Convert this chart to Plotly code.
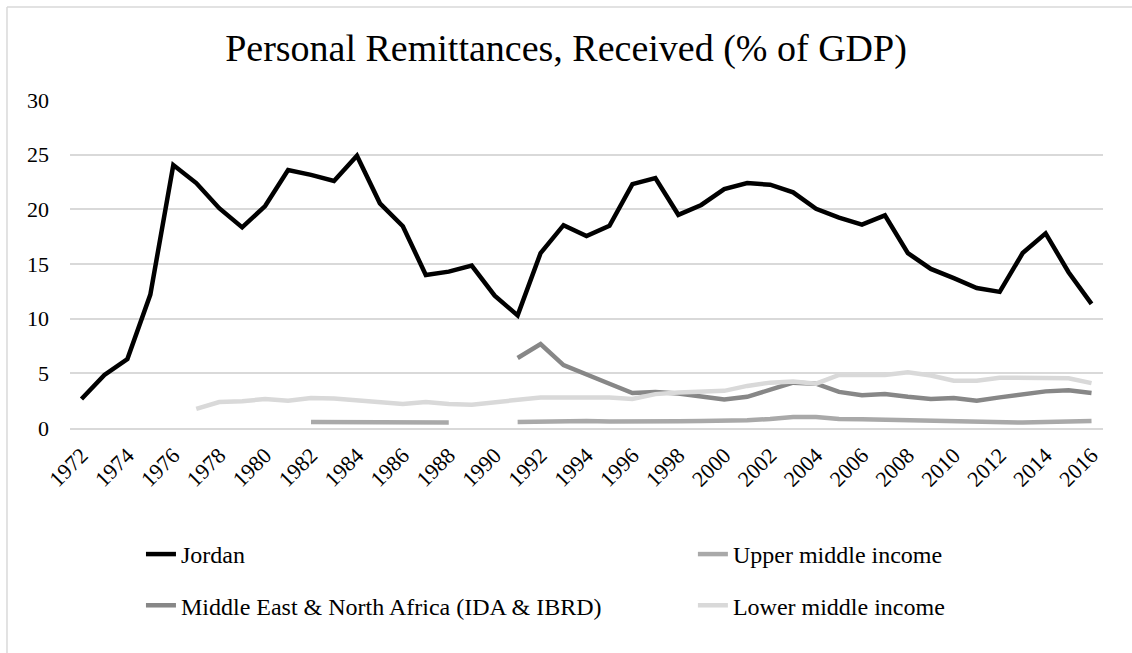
import plotly.graph_objects as go

years = list(range(1972, 2017))

jordan = [2.65, 4.85, 6.3, 12.2, 24.05, 22.4, 20.1, 18.35, 20.3, 23.6,
          23.15, 22.6, 24.9, 20.55, 18.45, 14.0, 14.3, 14.85, 12.1, 10.3,
          16.0, 18.55, 17.55, 18.5, 22.3, 22.85, 19.5, 20.4, 21.85, 22.4,
          22.25, 21.55, 20.05, 19.25, 18.6, 19.45, 16.0, 14.55, 13.7, 12.8,
          12.45, 16.0, 17.8, 14.25, 11.35]

upper_middle = [None] * 10 + [0.55, 0.55, 0.6, 0.5, 0.5, 0.55, 0.5, None, None,
                              0.55, 0.6, 0.6, 0.65, 0.6, 0.58, 0.6, 0.62, 0.65, 0.65,
                              0.72, 0.82, 1.0, 1.0, 0.82, 0.8, 0.75, 0.7, 0.7, 0.58,
                              0.52, 0.5, 0.5, 0.55, 0.65, 0.65]

mena = [None] * 19 + [6.4, 7.68, 5.75, 4.85, 4.05, 3.2, 3.3, 3.15, 2.9, 2.6,
                      2.85, 3.5, 4.15, 4.05, 3.3, 3.0, 3.1, 2.85, 2.65, 2.75,
                      2.5, 2.8, 3.1, 3.35, 3.45, 3.2]

lower_middle = [None] * 5 + [1.75, 2.38, 2.45, 2.65, 2.5, 2.75, 2.7, 2.52, 2.32,
                             2.2, 2.38, 2.2, 2.13, 2.35, 2.5, 2.8, 2.8, 2.8, 2.8,
                             2.65, 3.1, 3.25, 3.3, 3.4, 3.85, 4.15, 4.25, 4.05,
                             4.85, 4.85, 4.85, 5.1, 4.8, 4.32, 4.32, 4.6, 4.6,
                             4.55, 4.55, 4.1]

series = [
    ("Jordan", jordan, "#000000", "legend"),
    ("Upper middle income", upper_middle, "#a9a9a9", "legend2"),
    ("Middle East & North Africa (IDA & IBRD)", mena, "#878787", "legend"),
    ("Lower middle income", lower_middle, "#d9d9d9", "legend2"),
]

font_family = "Liberation Serif, Times New Roman, serif"

fig = go.Figure()
for name, vals, color, leg in series:
    fig.add_trace(go.Scatter(
        x=years, y=vals, name=name, mode="lines",
        line=dict(color=color, width=4.5),
        connectgaps=False, legend=leg, legendgroup=name,
    ))

legend_style = dict(
    orientation="v", yanchor="top", y=-0.317, xanchor="left",
    font=dict(family=font_family, size=24, color="#000000"),
    tracegroupgap=17, bgcolor="rgba(0,0,0,0)", itemwidth=30,
)

fig.update_layout(
    width=1132, height=653,
    margin=dict(l=70, r=29, t=100, b=225),
    paper_bgcolor="white", plot_bgcolor="white",
    font=dict(family=font_family, size=22, color="#000000"),
    title=dict(text="Personal Remittances, Received (% of GDP)",
               x=0.5, xref="container", xanchor="center",
               y=1 - 48 / 653, yref="container", yanchor="middle",
               font=dict(family=font_family, size=38, color="#000000")),
    xaxis=dict(range=[1971.5, 2016.5], tickmode="linear", tick0=1972, dtick=2,
               tickangle=-45, showgrid=False, showline=True, linecolor="#d9d9d9",
               linewidth=1.5, ticks="", zeroline=False, ticklabelstandoff=4,
               tickfont=dict(family=font_family, size=22)),
    yaxis=dict(range=[0, 30], tickmode="linear", dtick=5, showgrid=True,
               gridcolor="#d9d9d9", gridwidth=1.5, zeroline=False, showline=False,
               ticks="", ticklabelstandoff=20,
               tickfont=dict(family=font_family, size=22)),
    legend=dict(x=0.0687, **legend_style),
    legend2=dict(x=0.603, **legend_style),
    shapes=[
        dict(type="line", xref="paper", yref="paper", x0=-0.061, x1=-0.061,
             y0=1.2835, y1=-0.75, line=dict(color="#d9d9d9", width=1.5)),
        dict(type="line", xref="paper", yref="paper", x0=-0.061, x1=1.1,
             y0=1.2835, y1=1.2835, line=dict(color="#d9d9d9", width=1.5)),
    ],
)

# drop the default 8px body margin so the figure sits at the page corner
fig.write_html("out.html", config={"displayModeBar": False},
               post_script="document.body.style.margin='0';")
